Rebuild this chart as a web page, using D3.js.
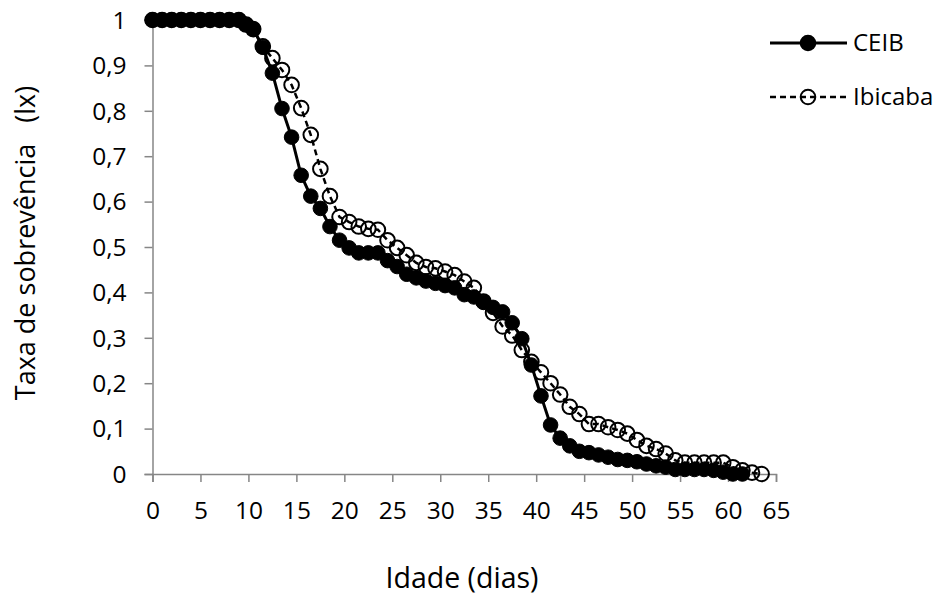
<!DOCTYPE html>
<html>
<head>
<meta charset="utf-8">
<script src="https://cdn.jsdelivr.net/npm/d3@7"></script>
<style>
  html, body { margin: 0; padding: 0; background: #fff; }
  svg { display: block; font-family: "Open Sans", Lato, "Noto Sans", sans-serif; }
</style>
</head>
<body>
<svg id="chart" width="940" height="595"></svg>
<script>
// ---- data ----
const ceibAge = [0,1,2,3,4,5,6,7,8,9,9.75,10.5,11.5,12.5,13.5,14.5,15.5,16.5,17.5,18.5,19.5,20.5,21.5,22.5,23.5,24.5,25.5,26.5,27.5,28.5,29.5,30.5,31.5,32.5,33.5,34.5,35.5,36.5,37.5,38.5,39.5,40.5,41.5,42.5,43.5,44.5,45.5,46.5,47.5,48.5,49.5,50.5,51.5,52.5,53.5,54.5,55.5,56.5,57.5,58.5,59.5,60.5,61.5];
const ceibLx  = [1,1,1,1,1,1,1,1,1,1,0.99,0.98,0.94,0.883,0.805,0.742,0.658,0.612,0.585,0.545,0.515,0.498,0.487,0.487,0.487,0.47,0.457,0.44,0.432,0.425,0.42,0.415,0.41,0.395,0.39,0.378,0.367,0.357,0.333,0.298,0.24,0.172,0.108,0.079,0.062,0.05,0.047,0.042,0.037,0.032,0.03,0.027,0.022,0.018,0.015,0.01,0.01,0.01,0.01,0.008,0.004,0,0];

const ibiAge = [0,1,2,3,4,5,6,7,8,9,9.75,10.5,11.5,12.5,13.5,14.5,15.5,16.5,17.5,18.5,19.5,20.5,21.5,22.5,23.5,24.5,25.5,26.5,27.5,28.5,29.5,30.5,31.5,32.5,33.5,34.5,35.5,36.5,37.5,38.5,39.5,40.5,41.5,42.5,43.5,44.5,45.5,46.5,47.5,48.5,49.5,50.5,51.5,52.5,53.5,54.5,55.5,56.5,57.5,58.5,59.5,60.5,61.5,62.5,63.5];
const ibiLx  = [1,1,1,1,1,1,1,1,1,1,0.99,0.98,0.942,0.916,0.89,0.857,0.806,0.747,0.672,0.612,0.566,0.555,0.545,0.54,0.538,0.515,0.498,0.482,0.465,0.456,0.453,0.446,0.438,0.424,0.41,0.38,0.355,0.325,0.305,0.273,0.247,0.224,0.2,0.175,0.148,0.132,0.11,0.11,0.103,0.097,0.089,0.075,0.062,0.055,0.045,0.03,0.025,0.025,0.025,0.025,0.025,0.015,0.008,0.003,0];

const xTicks = [0,5,10,15,20,25,30,35,40,45,50,55,60,65];
const yTicks = [0,0.1,0.2,0.3,0.4,0.5,0.6,0.7,0.8,0.9,1];
const seriesNames = ["CEIB", "Ibicaba"];
const xTitle = "Idade (dias)";
const yTitle = "Taxa de sobrevência   (lx)";

// ---- layout ----
const svg = d3.select("#chart");
const mLeft = 152.5, mRight = 776, mTop = 20, mBottom = 474;
const x = d3.scaleLinear().domain([0, 65]).range([mLeft, mRight]);
const y = d3.scaleLinear().domain([0, 1]).range([mBottom, mTop]);
const axisColor = "#868686";
const fmt = d => (d === 0 || d === 1) ? String(d) : String(d).replace(".", ",");

// axes
const gx = svg.append("g").attr("transform", `translate(0,${mBottom})`)
  .call(d3.axisBottom(x).tickValues(xTicks).tickSize(8).tickFormat(d => d));
const gy = svg.append("g").attr("transform", `translate(${mLeft},0)`)
  .call(d3.axisLeft(y).tickValues(yTicks).tickSize(8).tickPadding(18).tickFormat(fmt));
[gx, gy].forEach(g => {
  g.select(".domain").attr("stroke", axisColor).attr("stroke-width", 1.5);
  g.selectAll(".tick line").attr("stroke", axisColor).attr("stroke-width", 1.5);
  g.selectAll(".tick text").attr("fill", "#000").style("font-size", "24.5px")
    .style("font-family", "'Open Sans', Lato, sans-serif");
});
gx.selectAll(".tick text").attr("y", 45).attr("dy", 0);
gy.selectAll(".tick text").attr("dy", "0.34em");

// titles
svg.append("text").attr("x", 462).attr("y", 588).attr("text-anchor", "middle")
  .style("font-size", "28.5px").text(xTitle);
svg.append("text").attr("transform", "translate(35,243) rotate(-90)")
  .attr("text-anchor", "middle").attr("xml:space", "preserve")
  .style("white-space", "pre").style("font-size", "27px").text(yTitle);

// series
const ceib = ceibAge.map((a, i) => ({a, v: ceibLx[i]}));
const ibi = ibiAge.map((a, i) => ({a, v: ibiLx[i]}));
const line = d3.line().x(d => x(d.a)).y(d => y(d.v));
const R = 7.3;

// Ibicaba (drawn first)
svg.append("path").datum(ibi).attr("d", line).attr("fill", "none")
  .attr("stroke", "#000").attr("stroke-width", 2.5).attr("stroke-dasharray", "6,4");
svg.append("g").selectAll("circle").data(ibi).join("circle")
  .attr("cx", d => x(d.a)).attr("cy", d => y(d.v)).attr("r", R)
  .attr("fill", "none").attr("stroke", "#000").attr("stroke-width", 2);

// CEIB
svg.append("path").datum(ceib).attr("d", line).attr("fill", "none")
  .attr("stroke", "#000").attr("stroke-width", 3);
svg.append("g").selectAll("circle").data(ceib).join("circle")
  .attr("cx", d => x(d.a)).attr("cy", d => y(d.v)).attr("r", R)
  .attr("fill", "#000").attr("stroke", "#000").attr("stroke-width", 1);

// legend
const lg = svg.append("g");
const legendY = [43, 97];
seriesNames.forEach((name, i) => {
  const ly = legendY[i];
  lg.append("line").attr("x1", 770).attr("x2", 847).attr("y1", ly).attr("y2", ly)
    .attr("stroke", "#000").attr("stroke-width", i === 0 ? 3 : 2.5)
    .attr("stroke-dasharray", i === 0 ? null : "6,4");
  lg.append("circle").attr("cx", 808).attr("cy", ly).attr("r", R)
    .attr("fill", i === 0 ? "#000" : "none").attr("stroke", "#000").attr("stroke-width", 2);
  lg.append("text").attr("x", 853).attr("y", ly).attr("dy", "0.35em")
    .style("font-size", "24px").text(name);
});
</script>
</body>
</html>
